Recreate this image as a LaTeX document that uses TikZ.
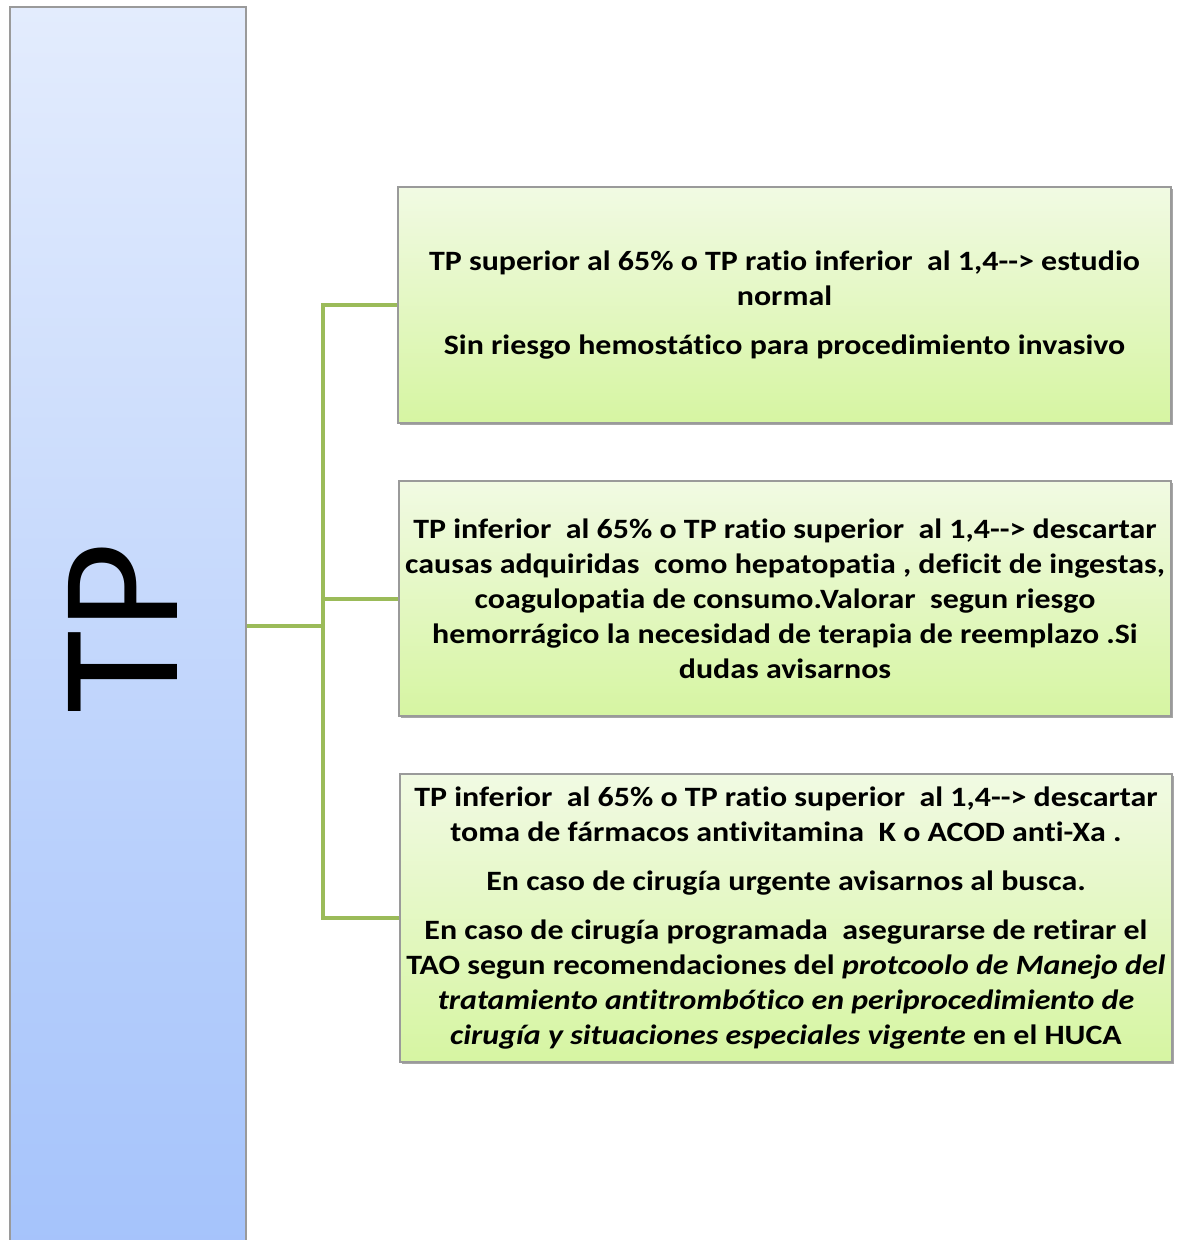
\documentclass[tikz,border=0pt]{standalone}
\usepackage{fontspec}
\setmainfont[Ligatures={TeXOff,NoCommon}]{Carlito}
\newfontfamily\boxfont[Ligatures={TeXOff,NoCommon},FakeStretch=1.14]{Carlito}
\usetikzlibrary{shadows}
\definecolor{conngreen}{HTML}{9BBB59}
\definecolor{bluetop}{HTML}{E3ECFD}
\definecolor{bluebot}{HTML}{A5C3FB}
\definecolor{greentop}{HTML}{F1FAE3}
\definecolor{greenbot}{HTML}{D6F5A2}
\definecolor{edgegray}{HTML}{9A9A9A}
\tikzset{
  bluebox/.style={draw=edgegray, line width=0.8pt, top color=bluetop, bottom color=bluebot, inner sep=0pt},
  greenbox/.style={draw=edgegray, line width=0.6pt, top color=greentop, bottom color=greenbot,
    drop shadow={shadow xshift=1.2pt, shadow yshift=-1.2pt, fill=black, opacity=0.35},
    align=center, inner sep=0pt, font=\boxfont\bfseries\fontsize{14}{17.5}\selectfont},
  conn/.style={draw=conngreen, line width=2pt},
  biglabel/.style={rotate=90, inner sep=0pt, font=\fontsize{85}{85}\selectfont}
}
\begin{document}
\begin{tikzpicture}[x=0.5pt,y=-0.5pt]
\useasboundingbox (0,0) rectangle (1176,1240);
\begin{scope}
\clip (0,0) rectangle (1176,1240);
\node[bluebox, minimum width=118pt, minimum height=621.5pt] (left) at (128,628.5) {};
\end{scope}
\node[biglabel] (tp) at (123,628) {TP};

\node[greenbox, minimum width=386.5pt, minimum height=118pt] (b1) at (784.5,305)
  {TP superior al 65\% o TP ratio inferior\ \ al 1,4--> estudio\\ normal\\[7pt]
   Sin riesgo hemostático para\ procedimiento invasivo};
\node[greenbox, minimum width=386pt, minimum height=117.5pt] (b2) at (785,598.5)
  {TP inferior\ \ al 65\% o TP ratio superior\ \ al 1,4--> descartar\\
   causas adquiridas\ \ como hepatopatia , deficit de ingestas,\\
   coagulopatia de consumo.Valorar\ \ segun riesgo\\
   hemorrágico la necesidad de terapia de reemplazo .Si\\
   dudas avisarnos};
\node[greenbox, minimum width=386pt, minimum height=144pt] (b3) at (786,918)
  {TP inferior\ \ al 65\% o TP ratio superior\ \ al 1,4--> descartar\\
   toma de fármacos antivitamina\ \ K o ACOD anti-Xa .\\[7pt]
   En caso de cirugía urgente avisarnos al busca.\\[7pt]
   En caso de cirugía programada\ \ asegurarse de retirar el\\
   TAO segun recomendaciones del \textit{protcoolo de Manejo del}\\
   \textit{tratamiento antitrombótico en periprocedimiento de}\\
   \textit{cirugía y situaciones especiales vigente} en el HUCA};

\coordinate (jx) at (323,626);
\draw[conn] (left.east |- jx) -- (jx);
\draw[conn] (b1.west) -| (jx);
\draw[conn] (b3.west) -| (jx);
\draw[conn] (b2.west) -- (b2.west -| jx);
\end{tikzpicture}
\end{document}
